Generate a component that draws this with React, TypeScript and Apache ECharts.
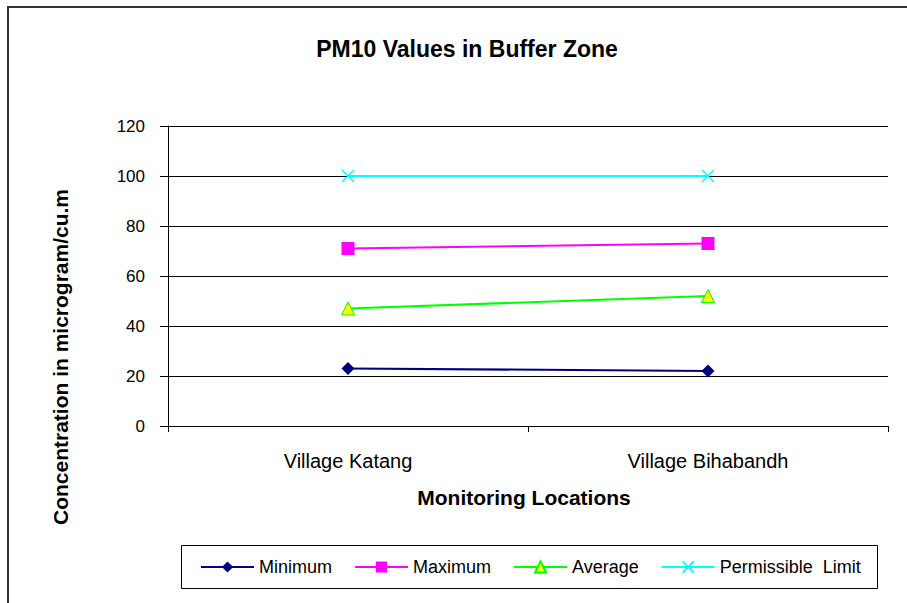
import React, { useEffect, useRef } from "react";
import * as echarts from "echarts";

const categories = ["Village Katang", "Village Bihabandh"];
const minimumValues = [23, 22];
const maximumValues = [71, 73];
const averageValues = [47, 52];
const permissibleValues = [100, 100];
const yTicks = { min: 0, max: 120, interval: 20 };

const FONT = "'Liberation Sans', Arial, sans-serif";

export default function App() {
  const ref = useRef<HTMLDivElement>(null);
  useEffect(() => {
    if (!ref.current) return;
    const chart = echarts.init(ref.current, undefined, { renderer: "svg" });
    const crossPath = "path://M0,0L10,10M10,0L0,10";
    chart.setOption({
      animation: false,
      backgroundColor: "#fff",
      textStyle: { fontFamily: FONT, color: "#000" },
      title: {
        text: "PM10 Values in Buffer Zone",
        left: 462,
        top: 32,
        textAlign: "center",
        textStyle: { fontFamily: FONT, fontSize: 23, fontWeight: "bold", color: "#000" },
      },
      grid: { left: 168, top: 126, width: 720, height: 300, containLabel: false },
      legend: {
        left: 200,
        top: 558,
        itemWidth: 53,
        itemHeight: 14,
        itemGap: 22,
        padding: 0,
        textStyle: { fontFamily: FONT, fontSize: 18, color: "#000" },
        data: ["Minimum", "Maximum", "Average", "Permissible  Limit"],
      },
      xAxis: {
        type: "category",
        data: categories,
        boundaryGap: true,
        axisLine: { lineStyle: { color: "#000", width: 1 } },
        axisTick: { show: true, length: 6, lineStyle: { color: "#000" } },
        axisLabel: { fontFamily: FONT, fontSize: 20, color: "#000", margin: 25 },
        splitLine: { show: false },
      },
      yAxis: {
        type: "value",
        min: yTicks.min,
        max: yTicks.max,
        interval: yTicks.interval,
        axisLine: { show: true, lineStyle: { color: "#000", width: 1 } },
        axisTick: { show: true, length: 8, lineStyle: { color: "#000" } },
        axisLabel: { fontFamily: FONT, fontSize: 17, color: "#000", margin: 23 },
        splitLine: { show: true, lineStyle: { color: "#000", width: 1 } },
      },
      series: [
        {
          name: "Minimum",
          type: "line",
          data: minimumValues,
          symbol: "diamond",
          symbolSize: 13,
          lineStyle: { color: "#000080", width: 2 },
          itemStyle: { color: "#000080", borderColor: "#000080", borderWidth: 0 },
        },
        {
          name: "Maximum",
          type: "line",
          data: maximumValues,
          symbol: "rect",
          symbolSize: 13,
          lineStyle: { color: "#ff00ff", width: 2 },
          itemStyle: { color: "#ff00ff", borderColor: "#ff00ff", borderWidth: 0 },
        },
        {
          name: "Average",
          type: "line",
          data: averageValues,
          symbol: "triangle",
          symbolSize: 13,
          lineStyle: { color: "#00ff00", width: 2 },
          itemStyle: { color: "#ffff00", borderColor: "#00ff00", borderWidth: 1 },
        },
        {
          name: "Permissible  Limit",
          type: "line",
          data: permissibleValues,
          symbol: crossPath,
          symbolSize: 12,
          lineStyle: { color: "#00ffff", width: 2 },
          itemStyle: { color: "#00ffff", borderColor: "#00ffff", borderWidth: 1.5 },
        },
      ],
      graphic: [
        {
          type: "rect",
          shape: { x: 8, y: 7, width: 1000, height: 700 },
          style: { fill: "none", stroke: "#333", lineWidth: 2 },
          silent: true,
          z: 100,
        },
        {
          type: "rect",
          shape: { x: 181.5, y: 545.5, width: 696, height: 43 },
          style: { fill: "none", stroke: "#000", lineWidth: 1 },
          silent: true,
        },
        {
          type: "text",
          x: 524,
          y: 497,
          style: {
            text: "Monitoring Locations",
            font: `bold 21px ${FONT}`,
            fill: "#000",
            align: "center",
            verticalAlign: "middle",
          },
        },
        {
          type: "text",
          x: 60,
          y: 357,
          rotation: Math.PI / 2,
          style: {
            text: "Concentration in microgram/cu.m",
            font: `bold 21px ${FONT}`,
            fill: "#000",
            align: "center",
            verticalAlign: "middle",
          },
        },
      ],
    });
    return () => chart.dispose();
  }, []);
  return (
    <div
      ref={ref}
      style={{ position: "fixed", left: 0, top: 0, width: 907, height: 603 }}
    />
  );
}
